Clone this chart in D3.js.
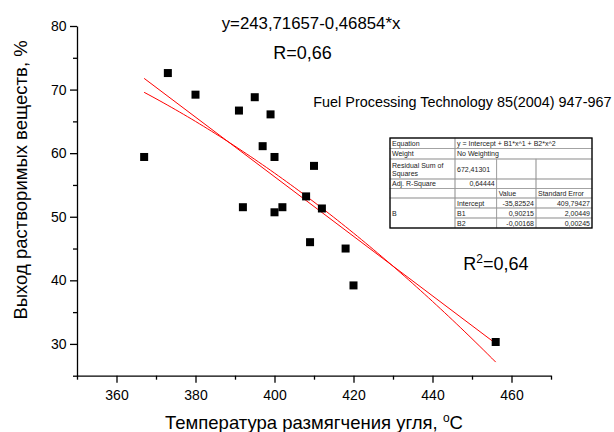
<!DOCTYPE html>
<meta charset="utf-8">
<style>
body { margin: 0; background: #fff; }
svg text { font-family: Arial, "Liberation Sans", sans-serif; fill: #000; }
.axis path, .axis line { stroke: #000; stroke-width: 1.3px; }
.axis text { font-size: 14px; }
.tbl text { font-size: 7px; fill: #222; }
</style>
<script src="https://d3js.org/d3.v7.min.js"></script>
<div id="chart"></div>
<script>

// data
var tempX  = [367, 373, 380, 391, 392, 395, 397, 399, 400, 400, 402, 408, 409, 410, 412, 418, 420, 456];
var yieldY = [59.4, 72.6, 69.2, 66.7, 51.5, 68.8, 61.1, 66.1, 59.4, 50.7, 51.5, 53.2, 46.0, 58.0, 51.3, 45.0, 39.2, 30.3];
var linCoef = [243.71657, -0.46854];
var xTicks = [360, 380, 400, 420, 440, 460];
var xMinor = [350, 370, 390, 410, 430, 450, 470];
var yTicks = [30, 40, 50, 60, 70, 80];
var yMinor = [25, 35, 45, 55, 65, 75];

// fit table text
var tableCells = [
  [0, 1, 0, 1, "Equation", "start"], [1, 4, 0, 1, "y = Intercept + B1*x^1 + B2*x^2", "start"],
  [0, 1, 1, 2, "Weight", "start"], [1, 4, 1, 2, "No Weighting", "start"],
  [0, 1, 2, 3, "Residual Sum of|Squares", "start"], [1, 2, 2, 3, "672,41301", "start"], [2, 3, 2, 3, "", "start"], [3, 4, 2, 3, "", "start"],
  [0, 1, 3, 4, "Adj. R-Square", "start"], [1, 2, 3, 4, "0,64444", "end"], [2, 3, 3, 4, "", "start"], [3, 4, 3, 4, "", "start"],
  [0, 1, 4, 5, "", "start"], [1, 2, 4, 5, "", "start"], [2, 3, 4, 5, "Value", "start"], [3, 4, 4, 5, "Standard Error", "start"],
  [0, 1, 5, 8, "B", "start"], [1, 2, 5, 6, "Intercept", "start"], [2, 3, 5, 6, "-35,82524", "end"], [3, 4, 5, 6, "409,79427", "end"],
  [1, 2, 6, 7, "B1", "start"], [2, 3, 6, 7, "0,90215", "end"], [3, 4, 6, 7, "2,00449", "end"],
  [1, 2, 7, 8, "B2", "start"], [2, 3, 7, 8, "-0,00168", "end"], [3, 4, 7, 8, "0,00245", "end"]
];

var W = 614, H = 432;
var svg = d3.select("#chart").append("svg")
  .attr("width", W).attr("height", H);

var x = d3.scaleLinear().domain([350, 470]).range([77, 551]);
var y = d3.scaleLinear().domain([25, 80]).range([375.7, 26]);

// axes
svg.append("g").attr("class", "axis")
  .attr("transform", "translate(0,375.7)")
  .call(d3.axisBottom(x).tickValues(xTicks).tickSize(7).tickSizeOuter(0).tickPadding(7.3));
svg.append("g").attr("class", "axis")
  .attr("transform", "translate(0,375.7)")
  .call(d3.axisBottom(x).tickValues(xMinor).tickSize(4).tickFormat(""))
  .select(".domain").remove();
svg.append("g").attr("class", "axis")
  .attr("transform", "translate(77,0)")
  .call(d3.axisLeft(y).tickValues(yTicks).tickSize(7).tickSizeOuter(0).tickPadding(3.5));
svg.append("g").attr("class", "axis")
  .attr("transform", "translate(77,0)")
  .call(d3.axisLeft(y).tickValues(yMinor).tickSize(4).tickFormat(""))
  .select(".domain").remove();

// quadratic least squares fit of the points
function quadFit(xs, ys) {
  var m = d3.mean(xs), S = [0, 0, 0, 0, 0], T = [0, 0, 0];
  xs.forEach(function(xv, i) {
    var u = xv - m;
    for (var k = 0; k < 5; k++) S[k] += Math.pow(u, k);
    for (var k = 0; k < 3; k++) T[k] += ys[i] * Math.pow(u, k);
  });
  var A = [[S[0], S[1], S[2]], [S[1], S[2], S[3]], [S[2], S[3], S[4]]];
  function det(M) {
    return M[0][0] * (M[1][1] * M[2][2] - M[1][2] * M[2][1])
         - M[0][1] * (M[1][0] * M[2][2] - M[1][2] * M[2][0])
         + M[0][2] * (M[1][0] * M[2][1] - M[1][1] * M[2][0]);
  }
  var D = det(A), c = [];
  for (var j = 0; j < 3; j++) {
    var Mj = A.map(function(r, i) { var rr = r.slice(); rr[j] = T[i]; return rr; });
    c.push(det(Mj) / D);
  }
  return function(xv) { var u = xv - m; return c[0] + c[1] * u + c[2] * u * u; };
}
var quad = quadFit(tempX, yieldY);
var x0 = d3.min(tempX), x1 = d3.max(tempX);
var fitXs = d3.range(x0, x1 + 0.5, 1);

var line = d3.line().x(function(d) { return x(d[0]); }).y(function(d) { return y(d[1]); });
svg.append("path")
  .datum([[x0, linCoef[0] + linCoef[1] * x0], [x1, linCoef[0] + linCoef[1] * x1]])
  .attr("d", line).attr("fill", "none").attr("stroke", "#ff0000").attr("stroke-width", 1);
svg.append("path")
  .datum(fitXs.map(function(v) { return [v, quad(v)]; }))
  .attr("d", line).attr("fill", "none").attr("stroke", "#ff0000").attr("stroke-width", 1);

// points
svg.selectAll("rect.pt")
  .data(tempX)
  .enter().append("rect")
    .attr("class", "pt")
    .attr("x", function(d) { return x(d) - 4; })
    .attr("y", function(d, i) { return y(yieldY[i]) - 4; })
    .attr("width", 8).attr("height", 8)
    .attr("fill", "#000");

// axis titles
svg.append("text")
  .attr("transform", "translate(26.5,180) rotate(-90)")
  .attr("text-anchor", "middle")
  .style("font-size", "18.5px")
  .text("Выход растворимых веществ, %");
var xt = svg.append("text")
  .attr("x", 314).attr("y", 429)
  .attr("text-anchor", "middle")
  .style("font-size", "18.5px");
xt.append("tspan").text("Температура размягчения угля, ");
xt.append("tspan").attr("dy", -7).style("font-size", "12px").text("o");
xt.append("tspan").attr("dy", 7).text("C");

// annotations
svg.append("text").attr("x", 221.7).attr("y", 29).style("font-size", "16.8px")
  .text("y=243,71657-0,46854*x");
svg.append("text").attr("x", 273.3).attr("y", 59.3).style("font-size", "18px")
  .text("R=0,66");
svg.append("text").attr("x", 313.3).attr("y", 106.7).style("font-size", "14.4px")
  .text("Fuel Processing Technology 85(2004) 947-967");
var r2 = svg.append("text").attr("x", 463.3).attr("y", 270).style("font-size", "18px");
r2.append("tspan").text("R");
r2.append("tspan").attr("dy", -7).style("font-size", "12px").text("2");
r2.append("tspan").attr("dy", 7).text("=0,64");

// fit table
var colX = [390, 455, 496.7, 536, 592];
var rowY = [138, 148.5, 159, 179, 188.5, 198, 208, 218, 228];
var tbl = svg.append("g").attr("class", "tbl");
tbl.append("rect").attr("x", colX[0]).attr("y", rowY[0])
  .attr("width", colX[4] - colX[0]).attr("height", rowY[8] - rowY[0]).attr("fill", "#fff");
tableCells.forEach(function(c) {
  var cx0 = colX[c[0]], cx1 = colX[c[1]], cy0 = rowY[c[2]], cy1 = rowY[c[3]];
  tbl.append("rect").attr("x", cx0).attr("y", cy0)
    .attr("width", cx1 - cx0).attr("height", cy1 - cy0)
    .attr("fill", "none").attr("stroke", "#9a9a9a").attr("stroke-width", 0.7);
  var lines = c[4] ? c[4].split("|") : [];
  var tx = c[5] === "end" ? cx1 - 2 : cx0 + 2;
  var ty = (cy0 + cy1) / 2 + 2.5 - (lines.length - 1) * 4;
  lines.forEach(function(s, k) {
    tbl.append("text").attr("x", tx).attr("y", ty + k * 8)
      .attr("text-anchor", c[5]).text(s);
  });
});
tbl.append("rect").attr("x", colX[0]).attr("y", rowY[0])
  .attr("width", colX[4] - colX[0]).attr("height", rowY[8] - rowY[0])
  .attr("fill", "none").attr("stroke", "#000").attr("stroke-width", 1.3);

</script>
